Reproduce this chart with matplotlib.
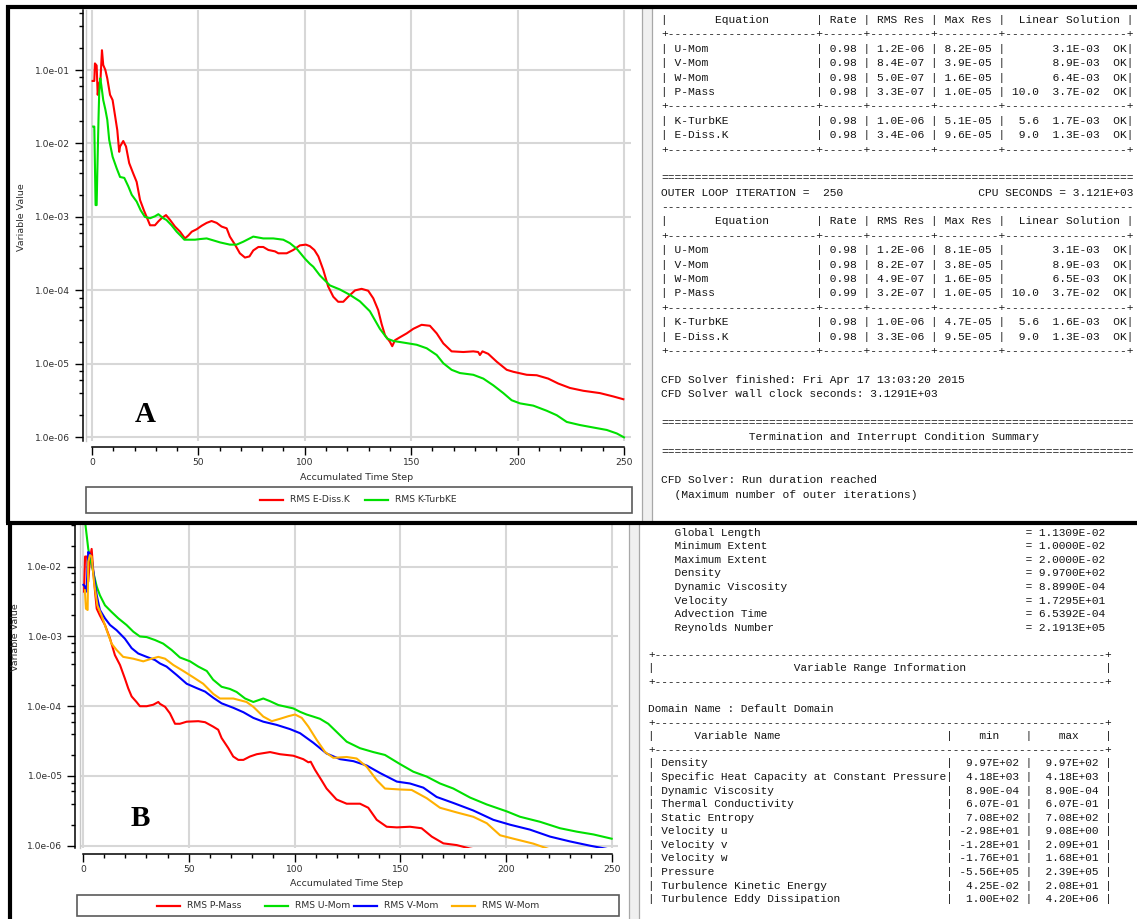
import matplotlib
matplotlib.use("Agg")
import matplotlib.pyplot as plt
from matplotlib.lines import Line2D
from matplotlib.patches import Rectangle
from matplotlib.ticker import FixedLocator, LogLocator, MultipleLocator, NullFormatter

W, H = 1137, 919

# ---- monitor A: turbulence residuals ----
ediss_step = [0.3, 1.1, 1.4, 2.2, 2.7, 3.4, 4.0, 4.7, 5.3, 6.3, 7.2, 8.5, 9.7, 10.8, 11.9,
              12.8, 13.2, 14.7, 16.0, 17.5, 19.4, 21.0, 22.6, 24.4, 25.7, 27.3, 29.6, 31.2,
              32.7, 34.8, 36.7, 39.0, 41.4, 43.7, 45.3, 46.9, 49.2, 51.6, 53.9, 56.2, 58.6,
              60.9, 63.3, 64.8, 67.2, 69.5, 71.9, 74.0, 75.8, 78.2, 80.5, 82.9, 86.0, 87.6,
              91.5, 94.6, 97.7, 100.5, 102.4, 104.5, 106.4, 108.7, 111.0, 113.4, 115.7, 118.1,
              120.4, 123.6, 126.7, 129.8, 132.2, 134.5, 136.1, 137.7, 140.0, 141.1, 142.4,
              144.7, 147.9, 151.0, 154.9, 158.8, 162.0, 165.1, 169.0, 174.5, 179.2, 181.5,
              182.3, 183.5, 186.2, 190.2, 194.9, 198.0, 204.3, 209.0, 214.4, 219.1, 224.6,
              230.9, 238.7, 245.0, 249.7]
ediss_rms = [7.1e-2, 7.1e-2, 1.23e-1, 1.15e-1, 4.6e-2, 6.6e-2, 7.3e-2, 1.86e-1, 1.17e-1, 1.0e-1,
             7.7e-2, 4.6e-2, 3.9e-2, 2.44e-2, 1.52e-2, 7.7e-3, 9.1e-3, 1.08e-2, 9.1e-3, 5.4e-3,
             3.9e-3, 3.0e-3, 1.7e-3, 1.23e-3, 1.0e-3, 7.7e-4, 7.7e-4, 8.7e-4, 9.6e-4, 1.06e-3,
             9.1e-4, 7.4e-4, 6.3e-4, 5.1e-4, 5.6e-4, 6.3e-4, 6.8e-4, 7.6e-4, 8.3e-4, 8.8e-4,
             8.3e-4, 7.4e-4, 7.0e-4, 5.4e-4, 4.2e-4, 3.2e-4, 2.8e-4, 2.9e-4, 3.5e-4, 3.9e-4,
             3.9e-4, 3.55e-4, 3.4e-4, 3.2e-4, 3.2e-4, 3.55e-4, 4.1e-4, 4.2e-4, 4.0e-4, 3.55e-4,
             2.9e-4, 1.9e-4, 1.13e-4, 8.2e-5, 7.0e-5, 7.0e-5, 8.2e-5, 1.0e-4, 1.05e-4, 9.9e-5,
             7.8e-5, 5.4e-5, 3.5e-5, 2.45e-5, 2.0e-5, 1.74e-5, 2.1e-5, 2.3e-5, 2.6e-5, 3.0e-5,
             3.4e-5, 3.3e-5, 2.6e-5, 1.9e-5, 1.48e-5, 1.45e-5, 1.48e-5, 1.45e-5, 1.32e-5,
             1.48e-5, 1.37e-5, 1.07e-5, 8.3e-6, 7.8e-6, 7.1e-6, 7.0e-6, 6.3e-6, 5.4e-6, 4.7e-6,
             4.3e-6, 4.0e-6, 3.6e-6, 3.3e-6]

turbke_step = [0.6, 1.1, 1.4, 1.7, 2.2, 2.5, 3.1, 3.4, 3.9, 4.4, 5.3, 6.3, 7.2, 8.1, 9.7, 11.6,
               13.2, 15.2, 17.1, 18.7, 21.0, 22.9, 24.9, 27.3, 29.6, 31.2, 33.5, 35.0, 37.4,
               39.8, 42.1, 43.4, 48.4, 50.8, 53.9, 57.0, 60.2, 64.8, 68.0, 71.1, 75.8, 80.5,
               85.2, 89.9, 93.0, 96.2, 100.1, 102.4, 104.0, 107.1, 111.8, 116.5, 121.2, 125.9,
               130.6, 135.3, 138.8, 141.6, 146.3, 152.6, 157.3, 162.0, 165.1, 169.0, 172.9,
               179.2, 183.9, 188.6, 193.3, 197.2, 201.1, 207.4, 213.7, 218.4, 223.1, 229.3,
               235.6, 241.9, 246.6, 250.0]
turbke_rms = [1.7e-2, 1.7e-2, 5.1e-3, 1.45e-3, 1.45e-3, 3.9e-3, 2.3e-2, 4.8e-2, 7.7e-2, 6.2e-2,
              3.9e-2, 2.9e-2, 2.1e-2, 1.12e-2, 6.6e-3, 4.6e-3, 3.5e-3, 3.4e-3, 2.6e-3, 2.0e-3,
              1.62e-3, 1.23e-3, 1.0e-3, 9.6e-4, 1.02e-3, 1.09e-3, 9.6e-4, 9.1e-4, 7.7e-4, 6.3e-4,
              5.4e-4, 4.9e-4, 4.9e-4, 5.0e-4, 5.1e-4, 4.8e-4, 4.5e-4, 4.2e-4, 4.2e-4, 4.6e-4,
              5.4e-4, 5.1e-4, 5.1e-4, 4.9e-4, 4.4e-4, 3.7e-4, 2.7e-4, 2.3e-4, 2.1e-4, 1.6e-4,
              1.17e-4, 1.03e-4, 8.7e-5, 7.1e-5, 5.2e-5, 3.0e-5, 2.2e-5, 2.05e-5, 1.95e-5, 1.82e-5,
              1.63e-5, 1.32e-5, 1.02e-5, 8.3e-6, 7.5e-6, 7.1e-6, 6.3e-6, 5.1e-6, 4.0e-6, 3.2e-6,
              2.9e-6, 2.7e-6, 2.3e-6, 2.0e-6, 1.62e-6, 1.47e-6, 1.36e-6, 1.26e-6, 1.13e-6, 1.0e-6]

# ---- monitor B: mass and momentum residuals ----
pmass_step = [0.5, 1.0, 2.0, 2.5, 3.3, 4.1, 4.9, 5.7, 6.5, 8.0, 10.4, 12.8, 15.1, 17.5, 19.8,
              21.4, 23.0, 25.3, 26.9, 30.1, 33.2, 35.6, 36.4, 38.8, 41.1, 43.5, 45.8, 49.0, 54.5,
              57.7, 61.5, 63.9, 65.5, 68.7, 71.0, 73.4, 75.8, 78.9, 82.1, 88.4, 93.1, 99.4,
              104.1, 106.5, 107.6, 109.6, 112.8, 115.1, 119.8, 124.6, 130.9, 134.8, 138.8,
              143.5, 148.3, 154.5, 160.0, 164.8, 170.3, 176.6, 182.9, 187.6]
pmass_rms = [4.4e-3, 1.4e-2, 1.4e-2, 6.1e-3, 1.3e-2, 1.8e-2, 8.5e-3, 4.4e-3, 2.5e-3, 2.0e-3,
             1.46e-3, 9.3e-4, 5.4e-4, 3.9e-4, 2.5e-4, 1.8e-4, 1.38e-4, 1.15e-4, 1.0e-4, 1.0e-4,
             1.05e-4, 1.15e-4, 1.08e-4, 9.8e-5, 7.9e-5, 5.6e-5, 5.6e-5, 6.0e-5, 6.1e-5, 5.9e-5,
             5.1e-5, 4.6e-5, 3.5e-5, 2.5e-5, 1.9e-5, 1.7e-5, 1.7e-5, 1.9e-5, 2.05e-5, 2.2e-5,
             2.05e-5, 1.95e-5, 1.74e-5, 1.57e-5, 1.6e-5, 1.23e-5, 8.6e-6, 6.6e-6, 4.6e-6, 4.0e-6,
             4.0e-6, 3.5e-6, 2.35e-6, 1.87e-6, 1.83e-6, 1.87e-6, 1.78e-6, 1.35e-6, 1.08e-6,
             1.02e-6, 9.1e-7, 8.6e-7]

umom_step = [0.5, 2.5, 4.1, 6.5, 8.0, 10.4, 13.5, 16.7, 20.6, 23.8, 26.9, 30.1, 34.0, 37.9,
             41.9, 45.8, 50.6, 54.5, 58.5, 61.5, 65.5, 69.4, 72.6, 76.6, 80.5, 82.9, 85.2, 88.4,
             92.3, 99.4, 102.6, 105.7, 108.8, 112.0, 115.9, 119.8, 124.6, 130.9, 137.2, 142.7,
             149.8, 156.1, 162.4, 168.7, 175.0, 182.9, 190.8, 200.3, 206.5, 216.0, 225.4, 233.3,
             241.2, 249.8]
umom_rms = [6.0e-2, 1.8e-2, 1.05e-2, 5.2e-3, 3.9e-3, 2.8e-3, 2.25e-3, 1.82e-3, 1.46e-3, 1.17e-3,
            1.0e-3, 9.8e-4, 8.9e-4, 7.9e-4, 6.4e-4, 5.0e-4, 4.4e-4, 3.7e-4, 3.2e-4, 2.4e-4,
            1.9e-4, 1.77e-4, 1.6e-4, 1.29e-4, 1.15e-4, 1.22e-4, 1.29e-4, 1.18e-4, 1.04e-4, 9.3e-5,
            8.3e-5, 7.6e-5, 7.1e-5, 6.6e-5, 5.6e-5, 4.3e-5, 3.1e-5, 2.5e-5, 2.2e-5, 2.0e-5,
            1.48e-5, 1.15e-5, 9.8e-6, 7.8e-6, 6.6e-6, 4.9e-6, 3.9e-6, 3.1e-6, 2.6e-6, 2.2e-6,
            1.78e-6, 1.59e-6, 1.45e-6, 1.26e-6]

vmom_step = [0.2, 1.0, 1.7, 2.5, 3.3, 4.1, 4.9, 6.5, 8.0, 10.4, 12.8, 15.9, 19.8, 23.0, 26.1,
             30.1, 34.0, 36.4, 39.5, 44.3, 49.0, 53.7, 57.7, 61.6, 65.5, 71.0, 75.8, 80.5, 85.2,
             91.5, 97.8, 102.6, 108.8, 115.1, 121.5, 127.8, 134.1, 140.4, 148.3, 154.5, 160.8,
             167.1, 175.0, 184.4, 193.9, 201.8, 211.2, 220.7, 230.2, 239.6, 247.5]
vmom_rms = [5.5e-3, 5.2e-3, 4.4e-3, 1.63e-2, 1.5e-2, 1.3e-2, 8.5e-3, 3.9e-3, 2.4e-3, 1.82e-3,
            1.46e-3, 1.23e-3, 9.3e-4, 6.8e-4, 5.7e-4, 5.1e-4, 4.6e-4, 4.1e-4, 3.7e-4, 2.8e-4,
            2.1e-4, 1.82e-4, 1.62e-4, 1.32e-4, 1.1e-4, 9.5e-5, 8.2e-5, 6.8e-5, 6.0e-5, 5.4e-5,
            4.7e-5, 4.1e-5, 3.0e-5, 2.1e-5, 1.74e-5, 1.63e-5, 1.41e-5, 1.1e-5, 8.3e-6, 7.8e-6,
            6.8e-6, 5.0e-6, 4.1e-6, 3.2e-6, 2.35e-6, 2.0e-6, 1.7e-6, 1.35e-6, 1.15e-6, 1.0e-6,
            9.0e-7]

wmom_step = [0.9, 1.4, 2.2, 2.5, 3.3, 4.1, 5.2, 6.8, 8.8, 11.2, 13.5, 15.9, 19.0, 23.8, 28.5,
             32.4, 35.6, 38.8, 42.7, 47.4, 52.1, 56.8, 61.6, 64.7, 71.0, 77.3, 80.5, 85.2, 89.2,
             93.1, 97.1, 100.2, 103.4, 106.5, 110.4, 114.4, 118.3, 124.6, 129.3, 134.1, 138.8,
             142.7, 149.8, 155.3, 162.4, 168.7, 176.6, 184.4, 190.8, 197.1, 203.4, 212.8, 219.9]
wmom_rms = [4.6e-3, 2.5e-3, 2.4e-3, 1.18e-2, 1.47e-2, 1.4e-2, 6.1e-3, 2.8e-3, 2.0e-3, 1.23e-3,
            7.9e-4, 6.4e-4, 5.1e-4, 4.8e-4, 4.4e-4, 4.8e-4, 5.1e-4, 4.8e-4, 3.9e-4, 3.2e-4,
            2.6e-4, 2.1e-4, 1.5e-4, 1.29e-4, 1.29e-4, 1.15e-4, 9.8e-5, 7.1e-5, 6.1e-5, 6.6e-5,
            7.2e-5, 7.6e-5, 6.8e-5, 5.1e-5, 3.3e-5, 2.2e-5, 1.82e-5, 1.87e-5, 1.78e-5, 1.35e-5,
            8.7e-6, 6.6e-6, 6.4e-6, 6.3e-6, 4.8e-6, 3.5e-6, 3.0e-6, 2.6e-6, 2.1e-6, 1.41e-6,
            1.26e-6, 1.07e-6, 9.0e-7]

# ---- solver output text ----
res_names = ["U-Mom", "V-Mom", "W-Mom", "P-Mass", "K-TurbKE", "E-Diss.K"]
res_rate_249 = ["0.98", "0.98", "0.98", "0.98", "0.98", "0.98"]
res_rms_249 = ["1.2E-06", "8.4E-07", "5.0E-07", "3.3E-07", "1.0E-06", "3.4E-06"]
res_max_249 = ["8.2E-05", "3.9E-05", "1.6E-05", "1.0E-05", "5.1E-05", "9.6E-05"]
res_iter_249 = ["", "", "", "10.0", "5.6", "9.0"]
res_lin_249 = ["3.1E-03", "8.9E-03", "6.4E-03", "3.7E-02", "1.7E-03", "1.3E-03"]
res_rate_250 = ["0.98", "0.98", "0.98", "0.99", "0.98", "0.98"]
res_rms_250 = ["1.2E-06", "8.2E-07", "4.9E-07", "3.2E-07", "1.0E-06", "3.3E-06"]
res_max_250 = ["8.1E-05", "3.8E-05", "1.6E-05", "1.0E-05", "4.7E-05", "9.5E-05"]
res_iter_250 = ["", "", "", "10.0", "5.6", "9.0"]
res_lin_250 = ["3.1E-03", "8.9E-03", "6.5E-03", "3.7E-02", "1.6E-03", "1.3E-03"]

ref_names = ["Global Length", "Minimum Extent", "Maximum Extent", "Density",
             "Dynamic Viscosity", "Velocity", "Advection Time", "Reynolds Number"]
ref_values = ["1.1309E-02", "1.0000E-02", "2.0000E-02", "9.9700E+02",
              "8.8990E-04", "1.7295E+01", "6.5392E-04", "2.1913E+05"]

var_names = ["Density", "Specific Heat Capacity at Constant Pressure", "Dynamic Viscosity",
             "Thermal Conductivity", "Static Entropy", "Velocity u", "Velocity v",
             "Velocity w", "Pressure", "Turbulence Kinetic Energy",
             "Turbulence Eddy Dissipation"]
var_min = ["9.97E+02", "4.18E+03", "8.90E-04", "6.07E-01", "7.08E+02", "-2.98E+01",
           "-1.28E+01", "-1.76E+01", "-5.56E+05", "4.25E-02", "1.00E+02"]
var_max = ["9.97E+02", "4.18E+03", "8.90E-04", "6.07E-01", "7.08E+02", "9.08E+00",
           "2.09E+01", "1.68E+01", "2.39E+05", "2.08E+01", "4.20E+06"]

RED, GREEN, BLUE, ORANGE = "#ff0000", "#00e000", "#0000ff", "#ffb000"
GRID = "#d7d7d7"
TXT = "#2e2e2e"


def fx(x):
    return x / W


def fy(y):
    return 1 - y / H


fig = plt.figure(figsize=(W / 100, H / 100), dpi=100)
fig.patch.set_facecolor("white")


def fig_line(xs, ys, **kw):
    fig.add_artist(Line2D([fx(v) for v in xs], [fy(v) for v in ys],
                          transform=fig.transFigure, **kw))


def monitor(box, xlim, ylim, ygap, xgap, decades):
    left, top, right, bottom = box
    ax = fig.add_axes([fx(left), fy(bottom), (right - left) / W, (bottom - top) / H])
    ax.set_yscale("log")
    ax.set_xlim(*xlim)
    ax.set_ylim(*ylim)
    for s in ("top", "right"):
        ax.spines[s].set_visible(False)
    ax.spines["left"].set_position(("outward", ygap))
    ax.spines["bottom"].set_position(("outward", xgap))
    ax.spines["bottom"].set_bounds(0, 250)
    for s in ("left", "bottom"):
        ax.spines[s].set_linewidth(1.1)
        ax.spines[s].set_color("black")
    ax.xaxis.set_major_locator(FixedLocator([0, 50, 100, 150, 200, 250]))
    ax.xaxis.set_minor_locator(MultipleLocator(10))
    ax.yaxis.set_major_locator(FixedLocator(decades))
    ax.yaxis.set_minor_locator(LogLocator(base=10, subs=(2, 4, 6, 8)))
    ax.yaxis.set_minor_formatter(NullFormatter())
    ax.set_yticklabels([f"{d:.1e}" for d in decades])
    ax.tick_params(which="major", length=5.6, width=1.0, labelsize=6.6, labelcolor=TXT)
    ax.tick_params(which="minor", length=3.2, width=1.0)
    ax.tick_params(axis="y", pad=3.4)
    ax.tick_params(axis="x", pad=2.4)
    ax.grid(True, which="major", color=GRID, lw=1.5)
    ax.set_axisbelow(True)
    ax.plot([0, 0], [0, 1], transform=ax.transAxes, color="#c8c8c8", lw=1.0, clip_on=False)
    return ax


def legend_box(x0, x1, y0, y1, entries):
    fig.add_artist(Rectangle((fx(x0), fy(y1)), (x1 - x0) / W, (y1 - y0) / H,
                             transform=fig.transFigure, facecolor="white",
                             edgecolor="#5a5a5a", lw=1.2))
    yc = (y0 + y1) / 2
    for xs, label, color in entries:
        fig_line([xs, xs + 23], [yc, yc], color=color, lw=1.6)
        fig.text(fx(xs + 30), fy(yc), label, fontsize=6.6, color=TXT, va="center", ha="left")


# monitor A
ax_a = monitor((86, 10, 631, 441), (-2.8, 253.3), (10 ** -6.05, 10 ** -0.183), 2.2, 4.1,
               [1e-6, 1e-5, 1e-4, 1e-3, 1e-2, 1e-1])
ax_a.plot(ediss_step, ediss_rms, color=RED, lw=1.5)
ax_a.plot(turbke_step, turbke_rms, color=GREEN, lw=1.5)
fig.text(fx(357), fy(478), "Accumulated Time Step", fontsize=6.8, color=TXT, ha="center", va="center")
fig.text(fx(22), fy(217), "Variable Value", fontsize=6.8, color=TXT, ha="center", va="center", rotation=90)
fig.text(fx(145), fy(421.5), "A", family="Liberation Serif", weight="bold", fontsize=21,
         ha="center", va="baseline")
legend_box(86, 632, 487, 513, [(260, "RMS E-Diss.K", RED), (365, "RMS K-TurbKE", GREEN)])

# monitor B
ax_b = monitor((80, 523, 618, 848), (-1.4, 252.8), (10 ** -6.033, 10 ** -1.373), 3.6, 4.5,
               [1e-6, 1e-5, 1e-4, 1e-3, 1e-2])
ax_b.plot(pmass_step, pmass_rms, color=RED, lw=1.5)
ax_b.plot(umom_step, umom_rms, color=GREEN, lw=1.5)
ax_b.plot(vmom_step, vmom_rms, color=BLUE, lw=1.5)
ax_b.plot(wmom_step, wmom_rms, color=ORANGE, lw=1.5)
fig.text(fx(347), fy(884), "Accumulated Time Step", fontsize=6.8, color=TXT, ha="center", va="center")
fig.text(fx(15), fy(637), "Variable Value", fontsize=6.8, color=TXT, ha="center", va="center", rotation=90)
fig.text(fx(140), fy(826.5), "B", family="Liberation Serif", weight="bold", fontsize=21,
         ha="center", va="baseline")
legend_box(77, 619, 895, 916, [(157, "RMS P-Mass", RED), (265, "RMS U-Mom", GREEN),
                               (354, "RMS V-Mom", BLUE), (452, "RMS W-Mom", ORANGE)])

# ---- solver output panels ----
sep = "+" + "-" * 22 + "+" + "-" * 6 + "+" + "-" * 9 + "+" + "-" * 9 + "+" + "-" * 18 + "+"
head = "|       Equation       | Rate | RMS Res | Max Res |  Linear Solution |"


def residual_rows(rate, rms, mx, it, lin):
    rows = []
    for i, name in enumerate(res_names):
        rows.append(f"| {name:<20} | {rate[i]} | {rms[i]} | {mx[i]} | {it[i]:>4}  {lin[i]}  OK|")
    return rows


r249 = residual_rows(res_rate_249, res_rms_249, res_max_249, res_iter_249, res_lin_249)
r250 = residual_rows(res_rate_250, res_rms_250, res_max_250, res_iter_250, res_lin_250)
top_lines = ([head, sep] + r249[:4] + [sep] + r249[4:] + [sep, "", "=" * 70,
             "OUTER LOOP ITERATION =  250" + " " * 20 + "CPU SECONDS = 3.121E+03", "-" * 70,
             head, sep] + r250[:4] + [sep] + r250[4:] + [sep, "",
             "CFD Solver finished: Fri Apr 17 13:03:20 2015",
             "CFD Solver wall clock seconds: 3.1291E+03", "", "=" * 70,
             "Termination and Interrupt Condition Summary".center(70), "=" * 70, "",
             "CFD Solver: Run duration reached", "  (Maximum number of outer iterations)"])
for i, s in enumerate(top_lines):
    fig.text(fx(661), fy(20 + i * 14.39), s, family="Liberation Mono", fontsize=8.1,
             color="#141414", va="center", ha="left")

box = "+" + "-" * 68 + "+"
bottom_lines = [f"    {n:<53}= {v}" for n, v in zip(ref_names, ref_values)]
bottom_lines += ["", box, "|" + "Variable Range Information".center(68) + "|", box, "",
                 "Domain Name : Default Domain", box,
                 "|" + "      Variable Name".ljust(44) + "|    min    |    max    |", box]
bottom_lines += [f"| {n:<43}|{a:>10} |{b:>10} |" for n, a, b in zip(var_names, var_min, var_max)]
for i, s in enumerate(bottom_lines):
    fig.text(fx(648.5), fy(532.7 + i * 13.57), s, family="Liberation Mono", fontsize=8.05,
             color="#141414", va="center", ha="left")

# splitter bars between monitor and output windows
for x0, x1, y0, y1 in [(642, 652, 9, 521), (629, 639, 525, 919)]:
    fig.add_artist(Rectangle((fx(x0), fy(y1)), (x1 - x0) / W, (y1 - y0) / H,
                             transform=fig.transFigure, facecolor="#f0f0f0", edgecolor="none"))
    fig_line([x0, x0], [y0, y1], color="#a8a8a8", lw=0.9)
    fig_line([x1, x1], [y0, y1], color="#a8a8a8", lw=0.9)

# black frames around the two panels
fig_line([6, W], [7, 7], color="black", lw=3.0, solid_capstyle="butt")
fig_line([8, 8], [5, 523], color="black", lw=3.0, solid_capstyle="butt")
fig_line([6, W], [523, 523], color="black", lw=3.0, solid_capstyle="butt")
fig_line([10, 10], [521, H], color="black", lw=3.0, solid_capstyle="butt")

fig.savefig("out.png", dpi=100)
